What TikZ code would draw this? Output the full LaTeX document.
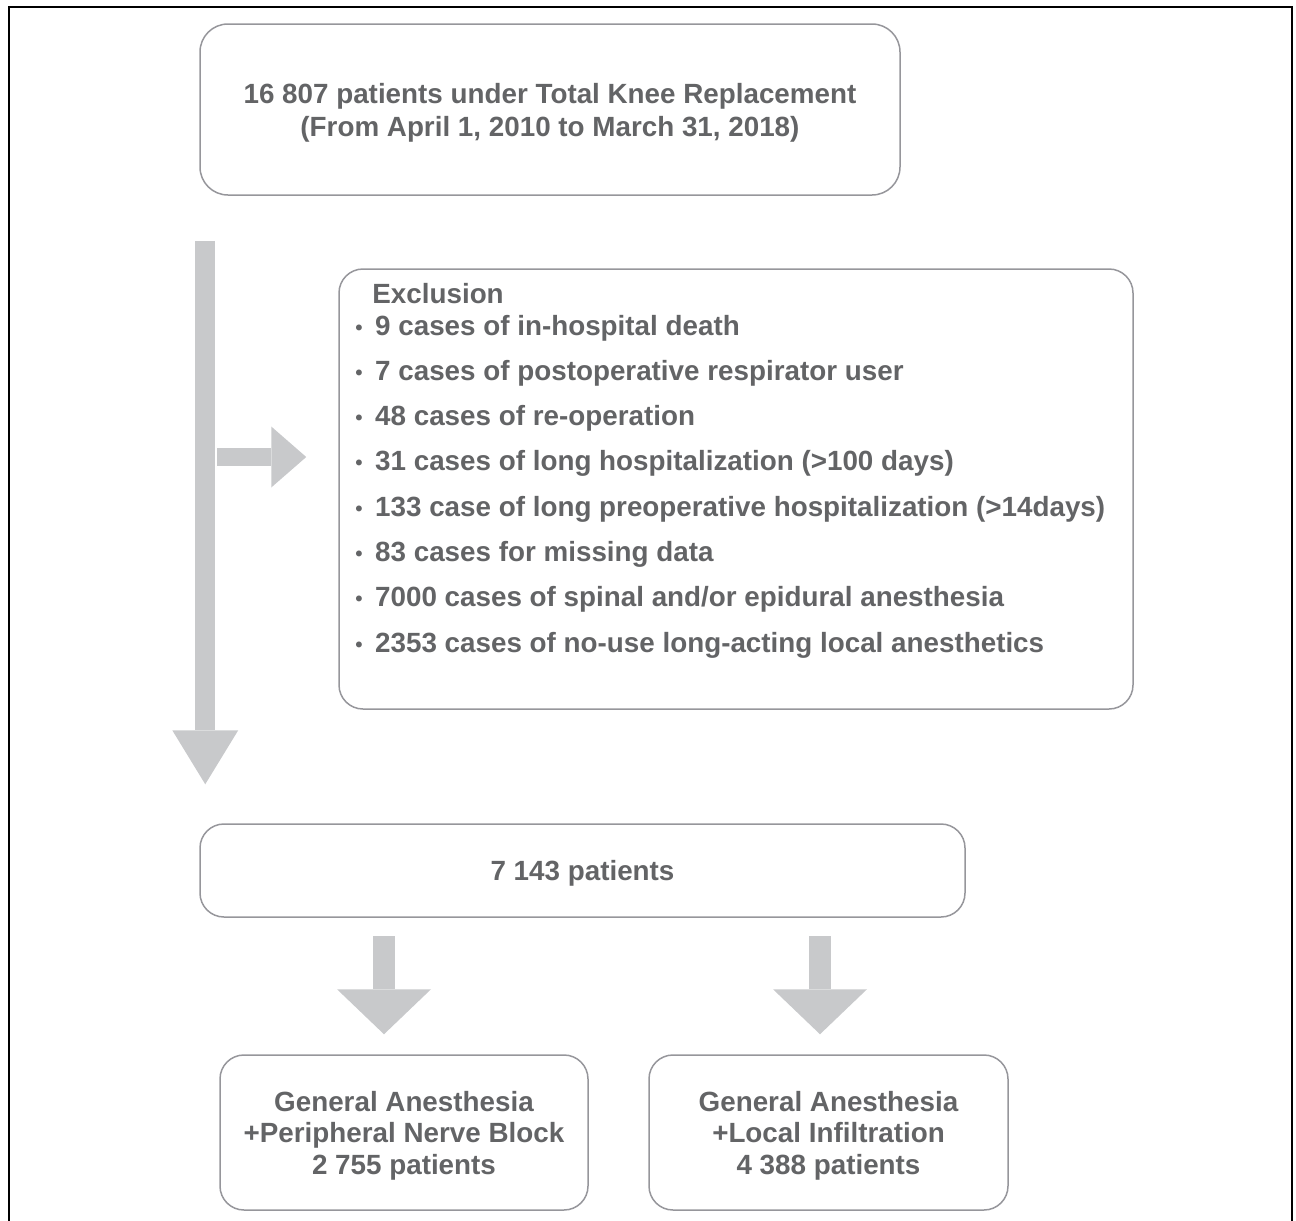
\documentclass[tikz,border=0pt]{standalone}
\usepackage{fontspec}
\setmainfont{Liberation Sans}
\newfontfamily\cjkfont{Noto Sans CJK JP}
\usetikzlibrary{arrows.meta,calc}
\definecolor{FlowText}{RGB}{99,100,102}
\definecolor{FlowEdge}{RGB}{150,150,155}
\definecolor{FlowArrow}{RGB}{200,201,203}
\newcommand{\lift}{\rule{0pt}{13pt}}

\begin{document}
\begin{tikzpicture}[x=1pt, y=-1pt, font=\bfseries\fontsize{13.9}{16.5}\selectfont, text=FlowText]
    \tikzstyle{box}=[draw=FlowEdge, line width=0.75pt, rounded corners=12pt, align=center]
    \tikzstyle{item}=[anchor=base west, inner sep=0pt]
    \tikzstyle{flow}=[FlowArrow, line width=10pt]
    \useasboundingbox (0,0) rectangle (648,610.5);
    \draw[line width=1pt] (4.5,610.5) -- (4.5,3.5) -- (646,3.5) -- (646,610.5);

    \node[box, rounded corners=14pt, minimum width=350pt, minimum height=85.5pt] (total) at (275,54.75) {\lift16 807 patients under Total Knee Replacement\\(From April 1, 2010 to March 31, 2018)};
    \node[box, minimum width=397pt, minimum height=220pt] (excl) at (368,244.5) {};
    \node[item] (exhead) at (186,151.5) {Exclusion};
    \foreach \txt [count=\i] in {9 cases of in-hospital death, 7 cases of postoperative respirator user, 48 cases of re-operation, 31 cases of long hospitalization (>100 days), 133 case of long preoperative hospitalization (>14days), 83 cases for missing data, 7000 cases of spinal and/or epidural anesthesia, 2353 cases of no-use long-acting local anesthetics}
        \node[item] (ex\i) at (172.5,{167.5+22.65*(\i-1)}) {\raisebox{-1.5pt}{\cjkfont\mdseries ・}\hspace{1pt}\txt};
    \node[box, minimum width=382.5pt, minimum height=46.5pt] (kept) at (291.25,435.25) {\lift7 143 patients};
    \node[box, minimum width=184pt, minimum height=77.5pt, font=\bfseries\fontsize{13.9}{15.75}\selectfont] (pnb) at (202,566.25) {\lift General Anesthesia\\+Peripheral Nerve Block\\2 755 patients};
    \node[box, minimum width=179.5pt, minimum height=77.5pt, font=\bfseries\fontsize{13.9}{15.75}\selectfont] (lia) at (414.25,566.25) {\lift General Anesthesia\\+Local Infiltration\\4 388 patients};

    \draw[flow, -{Triangle[width=33pt,length=27pt,line width=0pt]}] ($(total.south west)+(3,22.5)$) -- ($(kept.north west)+(3,-19.5)$);
    \draw[flow, line width=9pt, -{Triangle[width=30.5pt,length=17.5pt,line width=0pt]}] ($(excl.west)+(-60.5,-16)$) -- ($(excl.west)+(-16,-16)$);
    \draw[flow, line width=11pt, -{Triangle[width=47pt,length=22.5pt,line width=0pt]}] ($(pnb.north)+(-10,-59)$) -- ($(pnb.north)+(-10,-10)$);
    \draw[flow, line width=11pt, -{Triangle[width=47pt,length=22.5pt,line width=0pt]}] ($(lia.north)+(-4.25,-59)$) -- ($(lia.north)+(-4.25,-10)$);
\end{tikzpicture}
\end{document}
